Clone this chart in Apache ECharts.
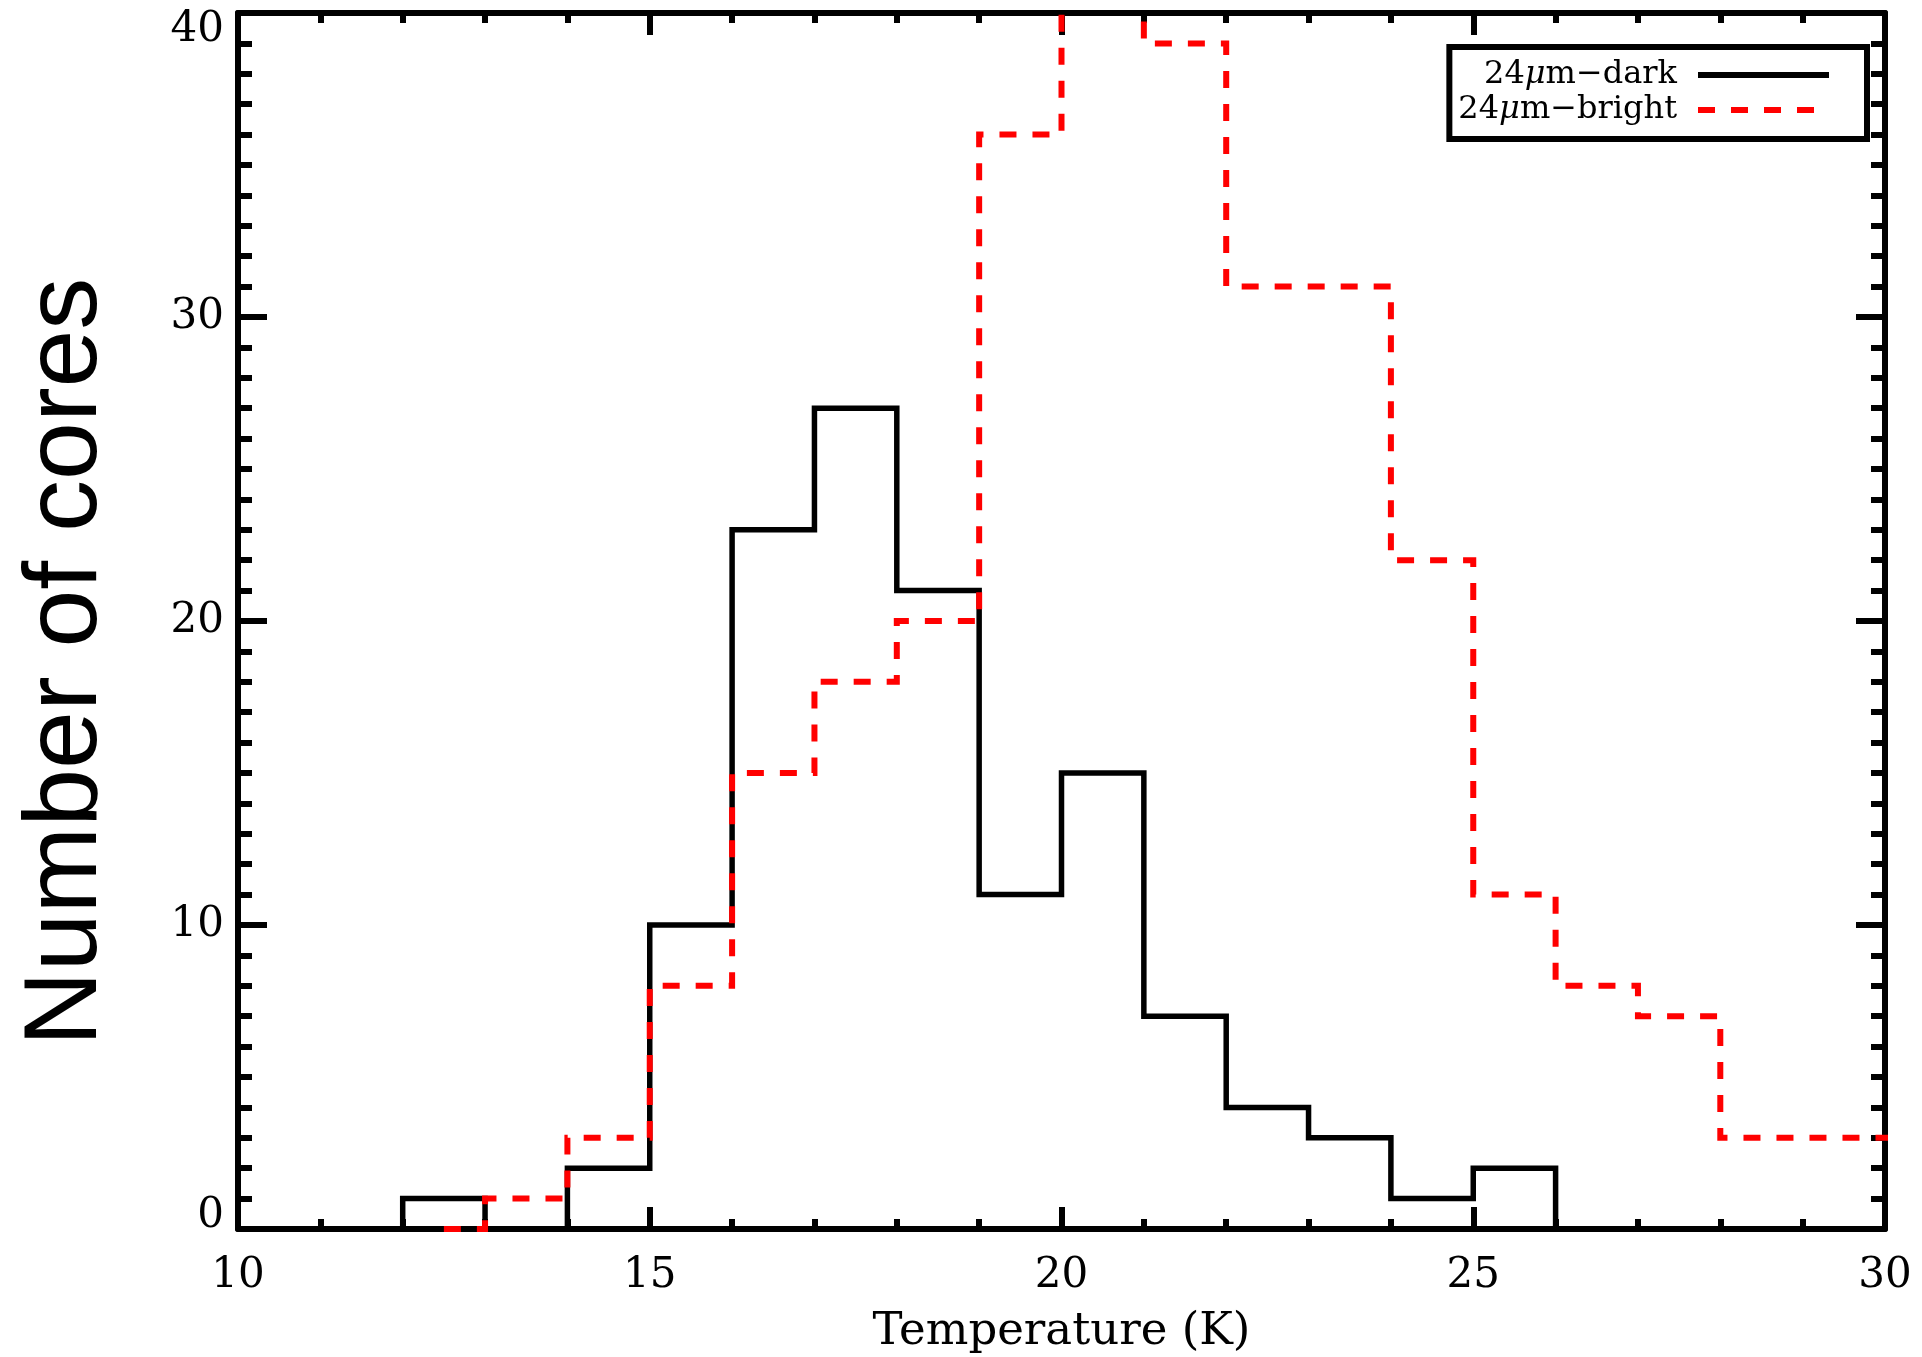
<!DOCTYPE html>
<html><head><meta charset="utf-8">
<style>html,body{margin:0;padding:0;background:#fff}#c{width:1922px;height:1357px}</style>
<script src="https://cdn.jsdelivr.net/npm/echarts@6/dist/echarts.min.js"></script>
</head><body><div id="c"></div>
<script>
// ---- data ----
const seriesNames = ['24\u03bcm\u2212dark', '24\u03bcm\u2212bright'];
const darkStart = 12;
const darkBinLeft = [12,13,14,15,16,17,18,19,20,21,22,23,24,25];
const darkCounts  = [1, 0, 2, 10,23,27,21,11,15,7, 4, 3, 1, 2];
const darkEnd = 26;
const brightStart = 12.5;
const brightBinLeft = [13,14,15,16,17,18,19,20,21,22,23,24,25,26,27,28,29];
const brightCounts  = [1, 3, 8, 15,18,20,36,42,39,31,31,22,11,8, 7, 3, 3];
const brightEnd = 30.5;
const xTicks = [10,15,20,25,30];
const yTicks = [0,10,20,30,40];

function buildSteps(start, lefts, counts, end) {
  const d = [[start, 0]];
  lefts.forEach((x, i) => d.push([x, counts[i]]));
  d.push([end, 0]);
  return d;
}

const serif = 'DejaVu Serif';
const chart = echarts.init(document.getElementById('c'), null, {renderer: 'canvas'});

function xAxisCfg(pos, labels) {
  return {
    type: 'value', position: pos, min: xTicks[0], max: xTicks[xTicks.length-1], interval: 5,
    axisLine: {show: true, onZero: false, lineStyle: {color: '#000', width: 6}},
    axisTick: {show: true, inside: true, length: 22, lineStyle: {color: '#000', width: 6}},
    minorTick: {show: true, splitNumber: 5, length: 10, lineStyle: {color: '#000', width: 6}},
    splitLine: {show: false}, minorSplitLine: {show: false},
    axisLabel: {show: labels, fontFamily: serif, fontSize: 42, color: '#000', margin: 26},
    name: labels ? 'Temperature (K)' : '', nameLocation: 'middle', nameGap: 81,
    nameTextStyle: {fontFamily: serif, fontSize: 45, color: '#000', lineHeight: 45}
  };
}
function yAxisCfg(pos, labels) {
  return {
    type: 'value', position: pos, min: yTicks[0], max: yTicks[yTicks.length-1], interval: 10,
    axisLine: {show: true, onZero: false, lineStyle: {color: '#000', width: 6}},
    axisTick: {show: true, inside: true, length: 29, lineStyle: {color: '#000', width: 6}},
    minorTick: {show: true, splitNumber: 10, length: 14, lineStyle: {color: '#000', width: 6}},
    splitLine: {show: false}, minorSplitLine: {show: false},
    axisLabel: {
      show: labels, fontFamily: serif, fontSize: 42, color: '#000', margin: 14,
      formatter: v => v === yTicks[0] ? '{lo|' + v + '}' : (v === yTicks[yTicks.length-1] ? '{hi|' + v + '}' : String(v)),
      rich: {
        lo: {fontFamily: serif, fontSize: 42, color: '#000', padding: [0, 0, 26, 0]},
        hi: {fontFamily: serif, fontSize: 42, color: '#000', padding: [34, 0, 0, 0]}
      }
    },
    name: labels ? 'Number of cores' : '', nameLocation: 'middle', nameGap: 119,
    nameTextStyle: {fontFamily: 'Liberation Sans', fontSize: 104, color: '#000', lineHeight: 104, padding: [0, 82, 0, 0]}
  };
}

const option = {
  animation: false,
  backgroundColor: '#fff',
  grid: {left: 238, right: 37, top: 13, bottom: 128, containLabel: false, outerBoundsMode: 'none'},
  xAxis: [xAxisCfg('bottom', true), xAxisCfg('top', false)],
  yAxis: [yAxisCfg('left', true), yAxisCfg('right', false)],
  legend: {
    orient: 'vertical', right: 55, top: 47, align: 'right',
    itemWidth: 131, itemHeight: 20, itemGap: 3,
    padding: [12, 35, 13, 9],
    borderColor: '#000', borderWidth: 6, backgroundColor: '#fff',
    formatter: n => n.replace('\u03bc', '{i|\u03bc}'),
    textStyle: {fontFamily: serif, fontSize: 32, color: '#000', lineHeight: 30, padding: [0, 16, 0, 0],
      rich: {i: {fontFamily: serif, fontSize: 32, fontStyle: 'italic', color: '#000'}}},
    data: [
      {name: seriesNames[0], itemStyle: {opacity: 0, color: 'rgba(0,0,0,0)', borderWidth: 0},
       lineStyle: {color: '#000', width: 6, type: 'solid', opacity: 1}},
      {name: seriesNames[1], itemStyle: {opacity: 0, color: 'rgba(0,0,0,0)', borderWidth: 0},
       lineStyle: {color: '#ff0000', width: 6, type: [17, 16], opacity: 1}}
    ]
  },
  series: [
    {
      name: seriesNames[0], type: 'line', step: 'end', symbol: 'none', clip: true,
      data: buildSteps(darkStart, darkBinLeft, darkCounts, darkEnd),
      lineStyle: {color: '#000', width: 5.5, cap: 'butt', join: 'miter'},
      itemStyle: {color: '#000'}, z: 3
    },
    {
      name: seriesNames[1], type: 'line', step: 'end', symbol: 'none', clip: true,
      data: buildSteps(brightStart, brightBinLeft, brightCounts, brightEnd),
      lineStyle: {color: '#ff0000', width: 6, type: [17, 16], cap: 'butt', join: 'miter'},
      itemStyle: {color: '#ff0000'}, z: 4
    }
  ]
};
chart.setOption(option);
</script>
</body></html>
